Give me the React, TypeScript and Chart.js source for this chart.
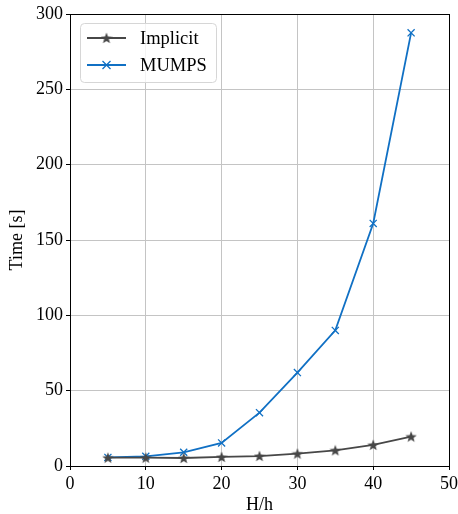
import React, { useEffect, useRef } from "react";
import { Chart, registerables } from "chart.js";

Chart.register(...registerables);

const xValues = [5, 10, 15, 20, 25, 30, 35, 40, 45];
const implicitTimes = [5.5, 5.5, 5.3, 6, 6.6, 8.2, 10.4, 14, 19.5];
const mumpsTimes = [5.7, 6.4, 9.1, 15.3, 35.4, 62, 90, 161, 287.5];
const seriesNames = ["Implicit", "MUMPS"];
const xTitle = "H/h";
const yTitle = "Time [s]";

const GRAY = "#474747";
const BLUE = "#1070c4";
const FONT = "'Liberation Serif', 'DejaVu Serif', serif";

function makeStar(size: number, color: string): HTMLCanvasElement {
  const c = document.createElement("canvas");
  c.width = size;
  c.height = size;
  const ctx = c.getContext("2d")!;
  const cx = size / 2;
  const cy = size / 2;
  const R = size / 2;
  const r = R * 0.42;
  ctx.beginPath();
  for (let i = 0; i < 10; i++) {
    const rad = i % 2 === 0 ? R : r;
    const a = -Math.PI / 2 + (i * Math.PI) / 5;
    const x = cx + rad * Math.cos(a);
    const y = cy + rad * Math.sin(a) + R * 0.08;
    if (i === 0) ctx.moveTo(x, y);
    else ctx.lineTo(x, y);
  }
  ctx.closePath();
  ctx.fillStyle = color;
  ctx.fill();
  return c;
}

export default function App() {
  const ref = useRef<HTMLCanvasElement>(null);
  useEffect(() => {
    document.body.style.margin = "0";
    const star = makeStar(12, GRAY);

    const frame = {
      id: "frame",
      afterDraw(chart: any) {
        const { ctx, chartArea: a } = chart;
        ctx.save();
        ctx.strokeStyle = "#000";
        ctx.lineWidth = 1;
        ctx.strokeRect(Math.round(a.left) + 0.5, Math.round(a.top) + 0.5, Math.round(a.right - a.left), Math.round(a.bottom - a.top));
        // legend
        const lx = 80.5, ly = 23.5, lw = 136, lh = 59, rr = 4;
        ctx.beginPath();
        ctx.moveTo(lx + rr, ly);
        ctx.lineTo(lx + lw - rr, ly);
        ctx.quadraticCurveTo(lx + lw, ly, lx + lw, ly + rr);
        ctx.lineTo(lx + lw, ly + lh - rr);
        ctx.quadraticCurveTo(lx + lw, ly + lh, lx + lw - rr, ly + lh);
        ctx.lineTo(lx + rr, ly + lh);
        ctx.quadraticCurveTo(lx, ly + lh, lx, ly + lh - rr);
        ctx.lineTo(lx, ly + rr);
        ctx.quadraticCurveTo(lx, ly, lx + rr, ly);
        ctx.closePath();
        ctx.fillStyle = "rgba(255,255,255,0.8)";
        ctx.fill();
        ctx.strokeStyle = "#d6d6d6";
        ctx.stroke();
        const rows = [
          { y: 38, color: GRAY, name: seriesNames[0], marker: "star" },
          { y: 65, color: BLUE, name: seriesNames[1], marker: "x" },
        ];
        ctx.font = `18.5px ${FONT}`;
        ctx.textBaseline = "middle";
        rows.forEach((r) => {
          ctx.strokeStyle = r.color;
          ctx.lineWidth = 1.8;
          ctx.beginPath();
          ctx.moveTo(87, r.y);
          ctx.lineTo(126, r.y);
          ctx.stroke();
          if (r.marker === "star") {
            ctx.drawImage(star, 106.5 - 6, r.y - 6);
          } else {
            ctx.lineWidth = 1.3;
            ctx.beginPath();
            ctx.moveTo(102.5, r.y - 4);
            ctx.lineTo(110.5, r.y + 4);
            ctx.moveTo(102.5, r.y + 4);
            ctx.lineTo(110.5, r.y - 4);
            ctx.stroke();
          }
          ctx.fillStyle = "#000";
          ctx.textAlign = "left";
          ctx.fillText(r.name, 140, r.y + 1);
        });
        ctx.restore();
      },
    };

    const tickFont = { family: FONT, size: 18 };
    const chart = new Chart(ref.current!, {
      type: "line",
      data: {
        datasets: [
          {
            label: seriesNames[0],
            data: xValues.map((x, i) => ({ x, y: implicitTimes[i] })),
            borderColor: GRAY,
            backgroundColor: GRAY,
            borderWidth: 1.8,
            pointStyle: star as any,
            pointRadius: 6,
            tension: 0,
          },
          {
            label: seriesNames[1],
            data: xValues.map((x, i) => ({ x, y: mumpsTimes[i] })),
            borderColor: BLUE,
            backgroundColor: BLUE,
            borderWidth: 1.8,
            pointStyle: "crossRot",
            pointRadius: 5,
            pointBorderWidth: 1.3,
            tension: 0,
          },
        ],
      },
      options: {
        animation: false,
        responsive: false,
        devicePixelRatio: 1,
        layout: { padding: { top: 14, right: 9, left: 0, bottom: 0 } },
        plugins: { legend: { display: false }, tooltip: { enabled: false } },
        scales: {
          x: {
            type: "linear",
            min: 0,
            max: 50,
            ticks: { stepSize: 10, color: "#000", font: tickFont, padding: 3, maxRotation: 0 },
            grid: { color: "#c4c4c4", lineWidth: 1, tickColor: "#000", tickLength: 4 },
            border: { color: "#000", width: 1 },
            title: { display: true, text: xTitle, color: "#000", font: { family: FONT, size: 18, lineHeight: 1 }, padding: { top: 0, bottom: 0 } },
            afterFit: (s: any) => { s.height = 48; s.paddingRight = 0; s.paddingLeft = 0; },
          },
          y: {
            type: "linear",
            min: 0,
            max: 300,
            ticks: { stepSize: 50, color: "#000", font: tickFont, padding: 3 },
            grid: { color: "#c4c4c4", lineWidth: 1, tickColor: "#000", tickLength: 4 },
            border: { color: "#000", width: 1 },
            title: { display: true, text: yTitle, color: "#000", font: { family: FONT, size: 18, lineHeight: 1 }, padding: { top: 8, bottom: 4 } },
            afterFit: (s: any) => { s.width = 70; s.paddingTop = 0; s.paddingBottom = 0; },
          },
        },
      },
      plugins: [frame],
    });
    return () => chart.destroy();
  }, []);
  return (
    <div style={{ width: 458, height: 514 }}>
      <canvas ref={ref} width={458} height={514} style={{ display: "block" }} />
    </div>
  );
}
